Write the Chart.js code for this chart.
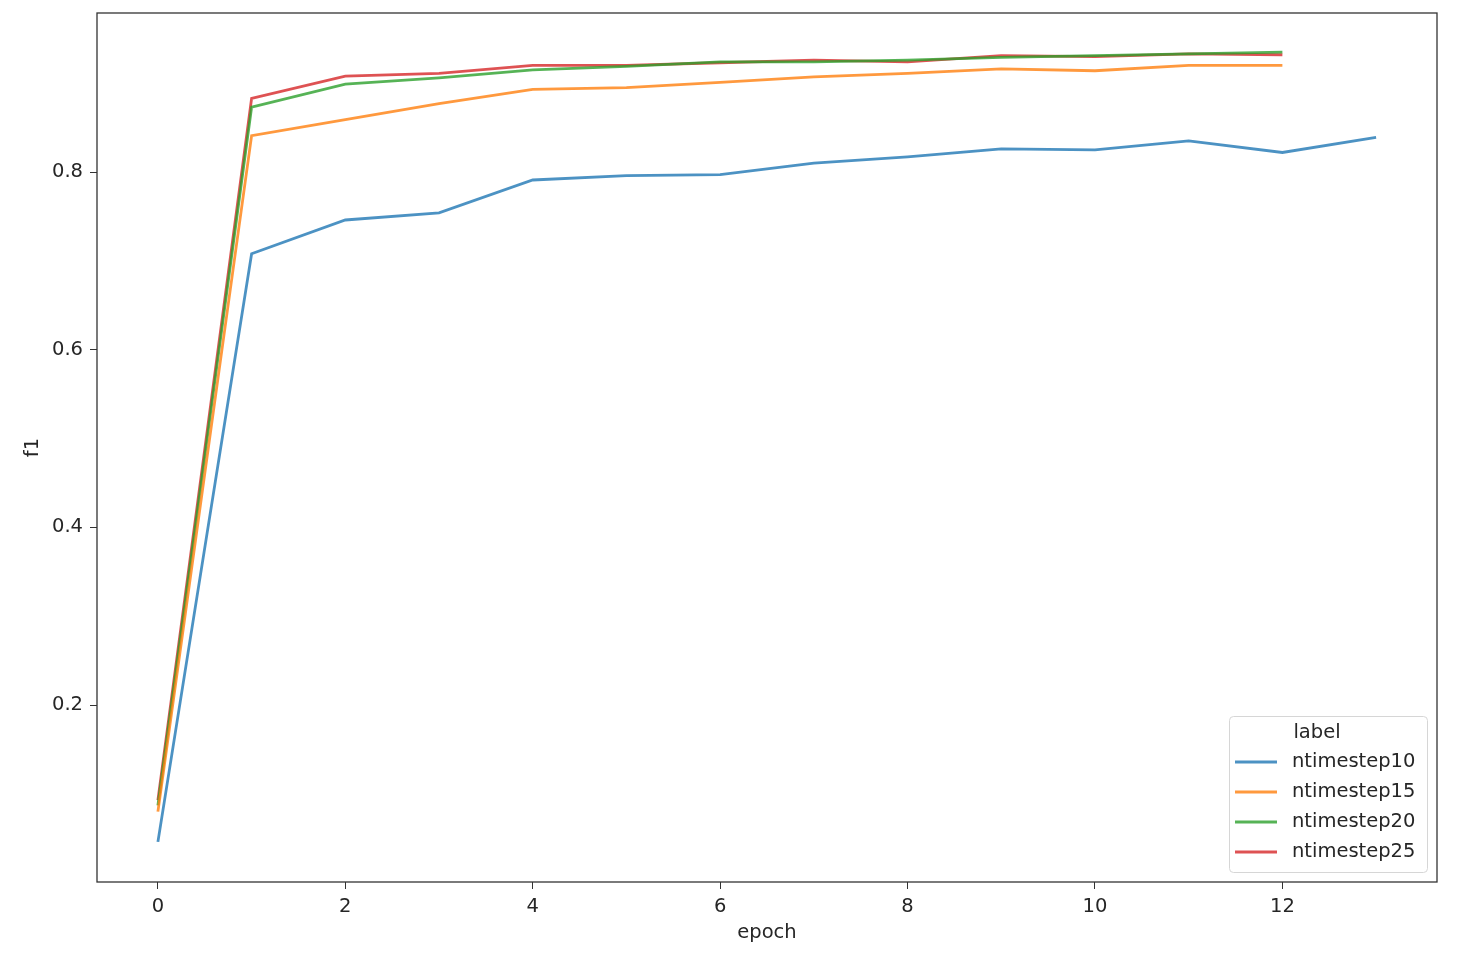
<!DOCTYPE html>
<html>
<head>
<meta charset="utf-8">
<script src="https://cdn.jsdelivr.net/npm/chart.js@4/dist/chart.umd.min.js"></script>
<style>
  html, body { margin: 0; padding: 0; background: #fff; }
  #wrap { width: 1466px; height: 968px; position: relative; }
</style>
</head>
<body>
<div id="wrap"><canvas id="f1Chart"></canvas></div>
<script>
// ==== data ====
const epochs = [0, 1, 2, 3, 4, 5, 6, 7, 8, 9, 10, 11, 12, 13];
const seriesNames = ["ntimestep10", "ntimestep15", "ntimestep20", "ntimestep25"];
const f1Step10 = [0.046, 0.708, 0.746, 0.754, 0.791, 0.796, 0.797, 0.810, 0.817, 0.826, 0.825, 0.835, 0.822, 0.839];
const f1Step15 = [0.080, 0.841, 0.859, 0.877, 0.893, 0.895, 0.901, 0.907, 0.911, 0.916, 0.914, 0.920, 0.920];
const f1Step20 = [0.087, 0.873, 0.899, 0.906, 0.915, 0.919, 0.924, 0.924, 0.926, 0.929, 0.931, 0.933, 0.935];
const f1Step25 = [0.093, 0.883, 0.908, 0.911, 0.920, 0.920, 0.923, 0.926, 0.924, 0.931, 0.930, 0.933, 0.932];
const xTicks = [0, 2, 4, 6, 8, 10, 12];
const yTicks = [0.2, 0.4, 0.6, 0.8];

const COLORS = ["rgba(31,119,180,0.8)", "rgba(255,127,14,0.8)", "rgba(44,160,44,0.8)", "rgba(214,39,40,0.8)"];
const FONT = "DejaVu Sans";
const FSIZE = 19.5;
const TXT = "#262626";

const allSeries = [f1Step10, f1Step15, f1Step20, f1Step25];
const datasets = allSeries.map((vals, i) => ({
  label: seriesNames[i],
  data: vals.map((v, k) => ({ x: epochs[k], y: v })),
  borderColor: COLORS[i],
  backgroundColor: COLORS[i],
  borderWidth: 2.8,
  pointRadius: 0,
  tension: 0,
  fill: false,
}));

// frame round the plot area
const framePlugin = {
  id: "frame",
  afterDraw(chart) {
    const { ctx, chartArea: a } = chart;
    ctx.save();
    ctx.strokeStyle = "#333";
    ctx.lineWidth = 1.3;
    ctx.strokeRect(a.left, a.top, a.right - a.left, a.bottom - a.top);
    ctx.restore();
  },
};

// matplotlib-like legend in the lower right corner
const boxLegend = {
  id: "boxLegend",
  afterDraw(chart) {
    const { ctx, chartArea: a } = chart;
    const w = 198, h = 156;
    const x = a.right - 10 - w, y = a.bottom - 10 - h;
    ctx.save();
    ctx.fillStyle = "rgba(255,255,255,0.8)";
    ctx.strokeStyle = "#d6d6d6";
    ctx.lineWidth = 1;
    ctx.beginPath();
    ctx.roundRect(x + 0.5, y + 0.5, w, h, 4);
    ctx.fill();
    ctx.stroke();
    ctx.font = `${FSIZE}px "${FONT}"`;
    ctx.fillStyle = TXT;
    ctx.textBaseline = "middle";
    ctx.textAlign = "center";
    ctx.fillText("label", x + 88, y + 17);
    ctx.textAlign = "left";
    chart.data.datasets.forEach((ds, i) => {
      const yy = y + 46 + i * 30;
      ctx.strokeStyle = ds.borderColor;
      ctx.lineWidth = 2.8;
      ctx.beginPath();
      ctx.moveTo(x + 6, yy);
      ctx.lineTo(x + 48, yy);
      ctx.stroke();
      ctx.fillStyle = TXT;
      ctx.fillText(ds.label, x + 63, yy);
    });
    ctx.restore();
  },
};

new Chart(document.getElementById("f1Chart").getContext("2d"), {
  type: "line",
  data: { datasets },
  options: {
    responsive: true,
    maintainAspectRatio: false,
    animation: false,
    layout: { padding: { top: 13, right: 29, left: 21, bottom: 23 } },
    plugins: { legend: { display: false }, tooltip: { enabled: false } },
    scales: {
      x: {
        type: "linear",
        min: -0.65,
        max: 13.65,
        afterBuildTicks: (s) => { s.ticks = xTicks.map((v) => ({ value: v })); },
        afterFit: (s) => { s.height = 63; s.paddingLeft = 0; s.paddingRight = 0; },
        grid: { drawOnChartArea: false, drawTicks: true, tickLength: 7, tickColor: "#333" },
        border: { display: false },
        ticks: { color: TXT, font: { family: FONT, size: FSIZE }, padding: 6, maxRotation: 0 },
        title: { display: true, text: "epoch", color: TXT, font: { family: FONT, size: FSIZE }, padding: 0 },
      },
      y: {
        type: "linear",
        min: 0.0008,
        max: 0.979,
        afterBuildTicks: (s) => { s.ticks = yTicks.map((v) => ({ value: v })); },
        afterFit: (s) => { s.width = 76; s.paddingTop = 0; s.paddingBottom = 0; },
        grid: { drawOnChartArea: false, drawTicks: true, tickLength: 7, tickColor: "#333" },
        border: { display: false },
        ticks: { color: TXT, font: { family: FONT, size: FSIZE }, padding: 7, callback: (v) => v.toFixed(1) },
        title: { display: true, text: "f1", color: TXT, font: { family: FONT, size: FSIZE }, padding: 0 },
      },
    },
  },
  plugins: [framePlugin, boxLegend],
});
</script>
</body>
</html>
